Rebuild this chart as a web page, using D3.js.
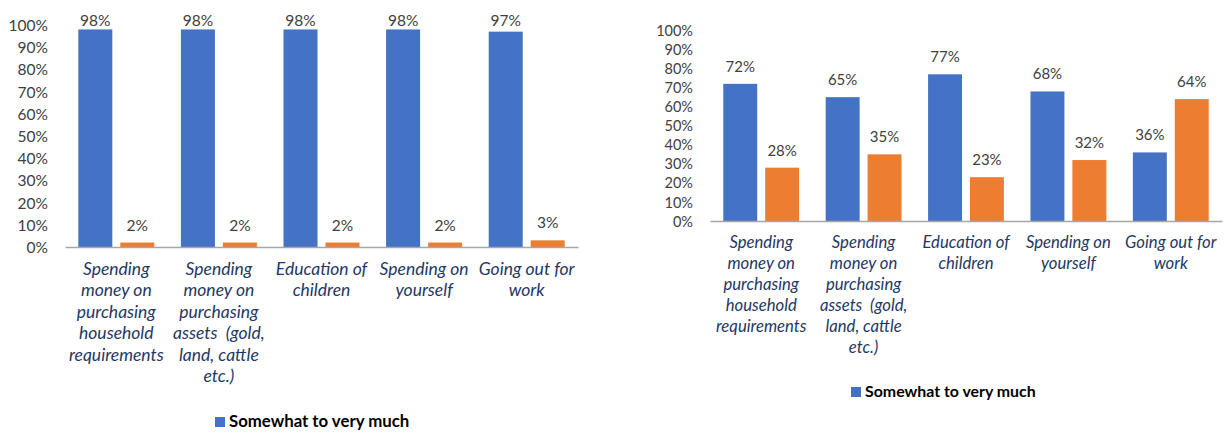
<!DOCTYPE html>
<html>
<head>
<meta charset="utf-8">
<script src="https://cdn.jsdelivr.net/npm/d3@7"></script>
<style>
  html, body { margin: 0; padding: 0; background: #ffffff; }
  svg { display: block; }
</style>
</head>
<body>
<svg id="chart" width="1225" height="432"></svg>
<script>
// Categories (line breaks as they wrap under the axis)
const categories = [
  ["Spending", "money on", "purchasing", "household", "requirements"],
  ["Spending", "money on", "purchasing", "assets  (gold,", "land, cattle", "etc.)"],
  ["Education of", "children"],
  ["Spending on", "yourself"],
  ["Going out for", "work"]
];
const seriesNames = ["Somewhat to very much", "Not at all"];
const yTicks = [0, 10, 20, 30, 40, 50, 60, 70, 80, 90, 100];

// Left panel values (%)
const leftBlue = [98, 98, 98, 98, 97];
const leftOrange = [2, 2, 2, 2, 3];

// Right panel values (%)
const rightBlue = [72, 65, 77, 68, 36];
const rightOrange = [28, 35, 23, 32, 64];

const colors = ["#4472C4", "#ED7D31"];
const FONT = "Lato, 'Open Sans', sans-serif";

const svg = d3.select("#chart");

function drawPanel(cfg) {
  const g = svg.append("g");
  const keys = categories.map((c, i) => i);

  const x = d3.scaleBand().domain(keys).range([cfg.x0, cfg.x1]).paddingInner(0).paddingOuter(0);
  const xs = d3.scaleBand().domain([0, 1]).range([0, x.bandwidth()])
    .paddingInner(0.19).paddingOuter(0.317);
  const y = d3.scaleLinear().domain([0, 100]).range([cfg.yBase, cfg.yTop]);

  // y tick labels (no axis line)
  const yAxis = d3.axisLeft(y).tickValues(yTicks).tickSize(0).tickPadding(0)
    .tickFormat(d => d + "%");
  const ya = g.append("g").attr("transform", `translate(${cfg.tickRight},0)`).call(yAxis);
  ya.select(".domain").remove();
  ya.selectAll("text")
    .attr("font-family", FONT).attr("font-size", cfg.tickSize)
    .attr("fill", "#404040").attr("dy", "0.35em");

  const series = [cfg.blue, cfg.orange];

  series.forEach((vals, s) => {
    g.append("g").selectAll("rect")
      .data(vals)
      .join("rect")
      .attr("x", (d, i) => x(i) + xs(s))
      .attr("width", xs.bandwidth())
      .attr("y", d => y(d))
      .attr("height", d => y(0) - y(d))
      .attr("fill", colors[s]);

    g.append("g").selectAll("text")
      .data(vals)
      .join("text")
      .attr("x", (d, i) => x(i) + xs(s) + xs.bandwidth() / 2)
      .attr("y", d => Math.max(y(d) - 12, cfg.labelMinY))
      .attr("text-anchor", "middle")
      .attr("font-family", FONT).attr("font-size", cfg.valueSize)
      .attr("fill", "#404040")
      .text(d => d + "%");
  });

  // baseline
  const xAxis = d3.axisBottom(x).tickSize(0).tickFormat("");
  const xa = g.append("g").attr("transform", `translate(0,${cfg.yBase})`).call(xAxis);
  xa.select(".domain").attr("stroke", "#A6A6A6").attr("stroke-width", 1.5);

  // wrapped category labels
  const labels = g.append("g").selectAll("text")
    .data(categories)
    .join("text")
    .attr("text-anchor", "middle")
    .attr("font-family", FONT).attr("font-style", "italic")
    .attr("font-size", cfg.catSize)
    .attr("fill", "#1F3864");
  labels.each(function (lines, i) {
    const t = d3.select(this);
    lines.forEach((ln, k) => {
      t.append("tspan")
        .attr("x", x(i) + x.bandwidth() / 2)
        .attr("y", cfg.catY + k * cfg.catStep)
        .attr("xml:space", "preserve")
        .text(ln);
    });
  });

  // legend (first series only)
  const lg = g.append("g").attr("transform", `translate(${cfg.legendX},${cfg.legendY})`);
  lg.append("rect").attr("x", 0).attr("y", -10).attr("width", 10).attr("height", 10)
    .attr("fill", colors[0]);
  lg.append("text").attr("x", 14).attr("y", 0)
    .attr("font-family", FONT).attr("font-weight", "bold")
    .attr("font-size", cfg.legendSize).attr("fill", "#000")
    .text(seriesNames[0]);
}

drawPanel({
  blue: leftBlue, orange: leftOrange,
  x0: 65, x1: 578, yBase: 247, yTop: 25,
  tickRight: 48, tickSize: 15.5, valueSize: 15.5, labelMinY: 26,
  catY: 275, catStep: 21.4, catSize: 17.5,
  legendX: 215, legendY: 427, legendSize: 16.8
});

drawPanel({
  blue: rightBlue, orange: rightOrange,
  x0: 710, x1: 1222, yBase: 221, yTop: 30.5,
  tickRight: 693, tickSize: 14.5, valueSize: 15, labelMinY: 20,
  catY: 248, catStep: 21, catSize: 16.7,
  legendX: 851, legendY: 397, legendSize: 15.9
});
</script>
</body>
</html>
